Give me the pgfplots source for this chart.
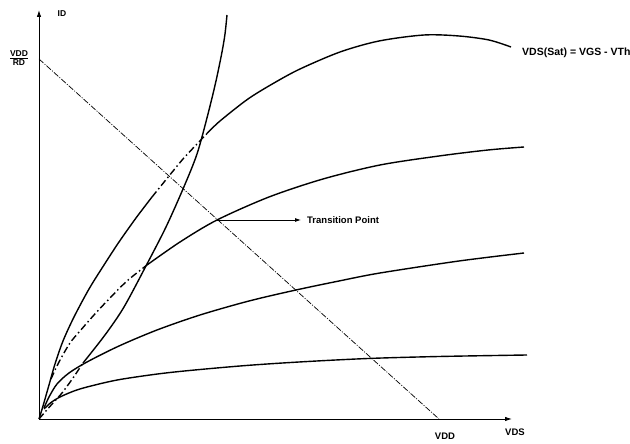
\documentclass[border=0pt]{standalone}
\usepackage{fontspec}
\setmainfont{Liberation Sans}
\usepackage{pgfplots}
\pgfplotsset{compat=1.18}
\usetikzlibrary{arrows.meta}
\begin{document}
\begin{tikzpicture}
\begin{axis}[x=1pt,y=1pt,
  xmin=0,xmax=473,ymin=0,ymax=409,
  axis lines=left,
  axis line style={line width=0.9pt,-{Latex[length=7pt,width=4.5pt]}},
  xtick=\empty, ytick=\empty, clip=false,
  every axis plot/.append style={line width=1.4pt, black, no markers}]
% curve 1 (top characteristic)
\addplot[smooth,tension=0.5] coordinates {(0,0) (4,13) (10,34) (16,55) (24,78) (35,102) (50,130) (65,154) (80,177) (97,201) (113,222)};
\addplot[smooth,tension=0.5,dash pattern=on 7pt off 3pt on 1.5pt off 3pt] coordinates {(113,222) (130,243) (144,260) (158,275) (168,285.5)};
\addplot[smooth,tension=0.5] coordinates {(168,285.5) (181,298) (209,320) (235,336) (261,350) (301,367) (340,378) (385,384) (420,383) (450,379) (472,372)};
% curve 2
\addplot[smooth,tension=0.5,dash pattern=on 7pt off 3pt on 1.5pt off 3pt] coordinates {(12,40) (20,57) (31,76) (41,88) (55,104) (70,120) (88,138) (108,154)};
\addplot[smooth,tension=0.5] coordinates {(108,154) (141,177) (178,199) (230,222) (284,240) (341,254) (400,263) (449,269) (485,272)};
% curve 3
\addplot[smooth,tension=0.5] coordinates {(5,11) (10,22) (18,35) (30,46) (48,57) (80,73) (118,89) (161,104) (210,118) (257,129) (300,138) (341,146) (420,158) (485,166)};
% curve 4
\addplot[smooth,tension=0.5] coordinates {(5,10) (12,16.5) (21,22) (35,28) (50,32.5) (81,39.5) (131,46.5) (201,53) (260,57) (329,60.5) (400,62.5) (488,64)};
% saturation locus
\addplot[smooth,tension=0.5,dash pattern=on 7pt off 3pt on 1.5pt off 3pt] coordinates {(0,0) (6,7) (14,16) (23,26) (34,41) (44,56)};
\addplot[smooth,tension=0.5] coordinates {(44,56) (66,84) (85,112) (108,155) (127,192) (144,230) (158,265) (169,305) (177,338) (183,367) (186,385) (188,404)};
% load line
\addplot[line width=0.7pt,dash pattern=on 6pt off 1.5pt on 1pt off 1.5pt] coordinates {(0,360) (400,0)};
% annotations
\draw[line width=0.8pt,-{Latex[length=6pt,width=4pt]}] (axis cs:178,199) -- (axis cs:262,199);
\node[anchor=west,inner sep=0pt,font=\bfseries\fontsize{9.5}{10}\selectfont] at (axis cs:268,199) {Transition Point};
\node[anchor=west,inner sep=0pt,font=\bfseries\fontsize{10.5}{11}\selectfont] at (axis cs:483,366) {VDS(Sat) = VGS - VTh};
\node[inner sep=0pt,font=\bfseries\fontsize{8.5}{9}\selectfont] at (axis cs:23,405) {ID};
\node[inner sep=0pt,align=center,font=\bfseries\fontsize{8.5}{9}\selectfont] at (axis cs:-20,361) {\underline{VDD}\\RD};
\node[inner sep=0pt,font=\bfseries\fontsize{9.5}{10}\selectfont] at (axis cs:406,-17) {VDD};
\node[inner sep=0pt,font=\bfseries\fontsize{9.5}{10}\selectfont] at (axis cs:476,-13) {VDS};
\coordinate (bbsw) at (axis cs:-39,-25);
\coordinate (bbne) at (axis cs:591,419);
\end{axis}
\pgfresetboundingbox
\path[use as bounding box] (bbsw) rectangle (bbne);
\end{tikzpicture}
\end{document}
